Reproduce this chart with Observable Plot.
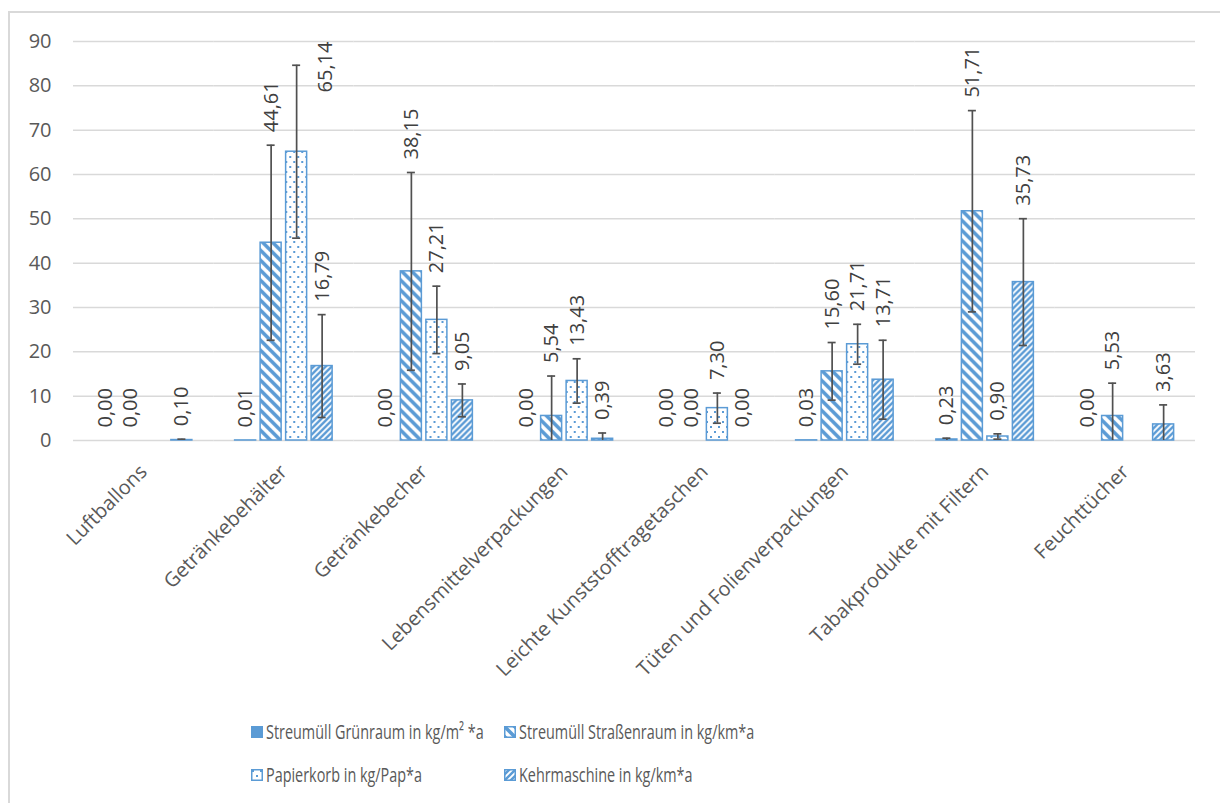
<!DOCTYPE html>
<html>
<head>
<meta charset="utf-8">
<script src="https://cdn.jsdelivr.net/npm/d3@7"></script>
<script src="https://cdn.jsdelivr.net/npm/@observablehq/plot@0.6"></script>
<style>
  html, body { margin: 0; padding: 0; background: #fff; }
  body { width: 1220px; height: 803px; position: relative; overflow: hidden; font-family: "Open Sans", sans-serif; color: #595959; }
  #frame { position: absolute; left: 8px; top: 11px; width: 1240px; height: 840px; border: 2px solid #d9d9d9; box-sizing: border-box; pointer-events: none; }
  #chart { position: absolute; left: 0; top: 0; }
  #legend { position: absolute; left: 251px; top: 710px; display: grid; grid-template-columns: 253px 320px; grid-auto-rows: 43px; }
  .item { display: flex; align-items: center; white-space: nowrap; }
  .item svg { flex: none; margin-right: 3px; }
  .item span { font-size: 20px; display: inline-block; transform: scaleX(0.72); transform-origin: left center; }
</style>
</head>
<body>
<svg width="0" height="0" style="position:absolute">
  <defs>
    <pattern id="pat-strasse" patternUnits="userSpaceOnUse" width="10" height="10">
      <rect width="10" height="10" fill="#fff"/>
      <path d="M-1,-1 L11,11 M-1,9 L1,11 M9,-1 L11,1" stroke="#5B9BD5" stroke-width="3.6"/>
    </pattern>
    <pattern id="pat-papier" patternUnits="userSpaceOnUse" width="8" height="10">
      <rect width="8" height="10" fill="#fff"/>
      <rect x="1" y="1" width="2" height="2" fill="#5B9BD5"/>
      <rect x="5" y="6" width="2" height="2" fill="#5B9BD5"/>
    </pattern>
    <pattern id="pat-kehr" patternUnits="userSpaceOnUse" width="6" height="6">
      <rect width="6" height="6" fill="#fff"/>
      <path d="M-1,7 L7,-1 M-1,1 L1,-1 M5,7 L7,5" stroke="#5B9BD5" stroke-width="2.4"/>
    </pattern>
  </defs>
</svg>
<div id="chart"></div>
<div id="legend"></div>
<div id="frame"></div>
<script>
const categories = ["Luftballons", "Getränkebehälter", "Getränkebecher", "Lebensmittelverpackungen",
  "Leichte Kunststofftragetaschen", "Tüten und Folienverpackungen", "Tabakprodukte mit Filtern", "Feuchttücher"];
const seriesNames = ["Streumüll Grünraum in kg/m² *a", "Streumüll Straßenraum in kg/km*a",
  "Papierkorb in kg/Pap*a", "Kehrmaschine in kg/km*a"];

const gruenraum    = [0.00, 0.01, 0.00, 0.00, 0.00, 0.03, 0.23, 0.00];
const strassenraum = [0.00, 44.61, 38.15, 5.54, 0.00, 15.60, 51.71, 5.53];
const papierkorb   = [null, 65.14, 27.21, 13.43, 7.30, 21.71, 0.90, null];
const kehrmaschine = [0.10, 16.79, 9.05, 0.39, 0.00, 13.71, 35.73, 3.63];

const gruenraumErr    = [0, 0, 0, 0, 0, 0, 0.3, 0];
const strassenraumErr = [0, 22.0, 22.3, 9.0, 0, 6.5, 22.7, 7.4];
const papierkorbErr   = [null, 19.5, 7.6, 5.0, 3.4, 4.5, 0.6, null];
const kehrmaschineErr = [0.2, 11.6, 3.7, 1.3, 0, 8.9, 14.3, 4.4];

const yTicks = [0, 10, 20, 30, 40, 50, 60, 70, 80, 90];

const values = [gruenraum, strassenraum, papierkorb, kehrmaschine];
const errors = [gruenraumErr, strassenraumErr, papierkorbErr, kehrmaschineErr];
const fills = ["#5B9BD5", "url(#pat-strasse)", "url(#pat-papier)", "url(#pat-kehr)"];
const blue = "#5B9BD5";
const errColor = "#505050";
const yMax = 90;
const marginTop = 41, zeroY = 440;
const pxPerUnit = (zeroY - marginTop) / yMax;

const fmt = v => d3.format(".2f")(v).replace(".", ",");

const rows = [];
seriesNames.forEach((s, si) => {
  categories.forEach((c, ci) => {
    const v = values[si][ci];
    if (v == null) return;
    const e = errors[si][ci] || 0;
    const hi = v + e;
    const label = fmt(v);
    const labelLenPx = label.length * 10.6 + 13;
    rows.push({
      category: c, series: s, si, value: v, err: e,
      lo: Math.max(0, v - e), hi, capLo: v - e >= 0,
      label, overflow: hi + labelLenPx / pxPerUnit > yMax
    });
  });
});

const fx = "category";
const marks = [
  Plot.ruleY(yTicks, {stroke: "#d9d9d9", strokeWidth: 1.5})
];
seriesNames.forEach((s, si) => {
  marks.push(Plot.barY(rows.filter(d => d.si === si), {
    fx, x: "series", y: "value", fill: fills[si], stroke: blue, strokeWidth: 1.5
  }));
});
const withErr = rows.filter(d => d.err > 0);
marks.push(
  Plot.ruleX(withErr, {fx, x: "series", y1: "lo", y2: "hi", stroke: errColor, strokeWidth: 1.7}),
  Plot.tickY(withErr, {fx, x: "series", y: "hi", stroke: errColor, strokeWidth: 1.7, insetLeft: 6.5, insetRight: 6.5}),
  Plot.tickY(withErr.filter(d => d.capLo), {fx, x: "series", y: "lo", stroke: errColor, strokeWidth: 1.7, insetLeft: 6.5, insetRight: 6.5}),
  Plot.text(rows.filter(d => !d.overflow), {fx, x: "series", y: "hi", text: "label", rotate: -90, textAnchor: "start", dy: -13, fill: "#404040", fontSize: 20}),
  Plot.text(rows.filter(d => d.overflow), {fx, x: "series", y: () => yMax, text: "label", rotate: -90, textAnchor: "end", dx: 29, fill: "#404040", fontSize: 20})
);

const chart = Plot.plot({
  width: 1220,
  height: 700,
  marginLeft: 73,
  marginRight: 25,
  marginTop,
  marginBottom: 700 - zeroY,
  style: {fontFamily: "Open Sans", fontSize: "20px", color: "#595959", background: "transparent", overflow: "visible"},
  fx: {domain: categories, paddingInner: 0, paddingOuter: 0, round: false, label: null, tickRotate: -45, tickSize: 0, tickPadding: 28},
  x: {domain: seriesNames, paddingInner: 0.176, paddingOuter: 0.838, round: false, axis: null},
  y: {domain: [0, yMax], ticks: yTicks, tickSize: 0, tickPadding: 22, label: null, tickFormat: d => d},
  marks
});
document.getElementById("chart").appendChild(chart);

const legend = document.getElementById("legend");
seriesNames.forEach((s, si) => {
  const item = document.createElement("div");
  item.className = "item";
  item.innerHTML = `<svg width="12" height="12"><rect x="0.75" y="0.75" width="10.5" height="10.5" fill="${fills[si]}" stroke="${blue}" stroke-width="1.5"/></svg><span>${s}</span>`;
  legend.appendChild(item);
});
</script>
</body>
</html>
